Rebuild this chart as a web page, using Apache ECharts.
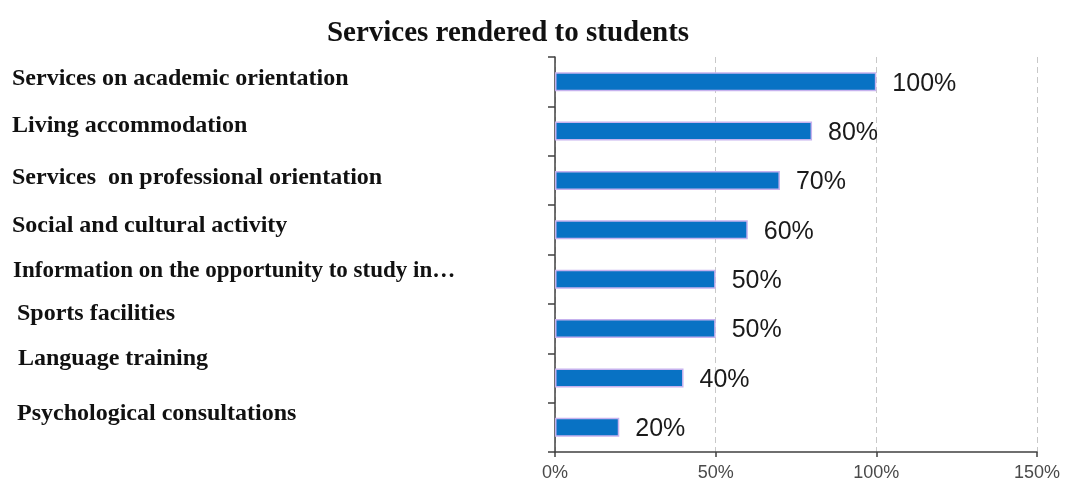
<!DOCTYPE html>
<html>
<head>
<meta charset="utf-8">
<script src="https://cdn.jsdelivr.net/npm/echarts@6/dist/echarts.min.js"></script>
<style>
  html, body { margin: 0; padding: 0; background: #ffffff; }
  #chart { width: 1069px; height: 486px; }
</style>
</head>
<body>
<div id="chart"></div>
<script>
// Services offered to students, share of institutions (%)
const categories = [
  'Services on academic orientation',
  'Living accommodation',
  'Services  on professional orientation',
  'Social and cultural activity',
  'Information on the opportunity to study in…',
  'Sports facilities',
  'Language training',
  'Psychological consultations'
];
const shares = [100, 80, 70, 60, 50, 50, 40, 20];
const axisTicks = [0, 50, 100, 150];

// Per-row caption styling: [shift up px, indent px, font size]
const captionStyle = [
  [3, 0, 24], [5, 0, 24], [3, 0, 24], [4, 0, 24],
  [8, 1, 23], [15, 5, 24], [19, 6, 24], [14, 5, 24]
];

const rich = {};
captionStyle.forEach(function (s, i) {
  rich['r' + i] = {
    fontFamily: '"Liberation Serif", "Times New Roman", serif',
    fontWeight: 'bold',
    fontSize: s[2],
    color: '#111111',
    padding: [0, 0, s[0] * 2, s[1]]
  };
});

const chart = echarts.init(document.getElementById('chart'), null, { renderer: 'canvas' });

chart.setOption({
  backgroundColor: '#ffffff',
  animation: false,
  title: {
    text: 'Services rendered to students',
    left: 503,
    top: 14,
    textAlign: 'center',
    textStyle: {
      fontFamily: '"Liberation Serif", "Times New Roman", serif',
      fontWeight: 'bold',
      fontSize: 29,
      color: '#111111'
    }
  },
  grid: {
    left: 555,
    right: 32,
    top: 57,
    bottom: 34,
    containLabel: false
  },
  xAxis: {
    type: 'value',
    min: axisTicks[0],
    max: axisTicks[axisTicks.length - 1],
    interval: axisTicks[1] - axisTicks[0],
    axisLine: { show: true, lineStyle: { color: '#404040', width: 1.5 } },
    axisTick: { show: true, length: 5, lineStyle: { color: '#404040', width: 1.5 } },
    axisLabel: {
      formatter: '{value}%',
      margin: 12,
      fontFamily: '"Liberation Sans", Arial, sans-serif',
      fontSize: 18,
      color: '#4a4a4a'
    },
    splitLine: {
      show: true,
      lineStyle: { color: '#c8c8c8', type: [6, 4], width: 1 }
    }
  },
  yAxis: {
    type: 'category',
    data: categories,
    inverse: true,
    axisLine: { show: true, lineStyle: { color: '#404040', width: 1.5 } },
    axisTick: { show: true, length: 7, lineStyle: { color: '#404040', width: 1.5 } },
    axisLabel: {
      align: 'left',
      margin: 543,
      formatter: function (value, index) {
        return '{r' + index + '|' + value + '}';
      },
      rich: rich
    },
    splitLine: { show: false }
  },
  series: [{
    type: 'bar',
    data: shares,
    barWidth: 19,
    itemStyle: {
      color: '#0872c4',
      borderColor: '#c6b2ee',
      borderWidth: 1.5
    },
    label: {
      show: true,
      position: 'right',
      distance: 16,
      formatter: '{c}%',
      fontFamily: '"Liberation Sans", Arial, sans-serif',
      fontSize: 25,
      color: '#1a1a1a',
      offset: [0, 2]
    }
  }]
});
</script>
</body>
</html>
